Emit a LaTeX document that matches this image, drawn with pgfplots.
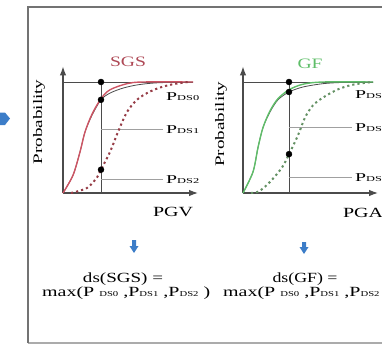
\documentclass[border=0pt]{standalone}
\usepackage{pgfplots}
\pgfplotsset{compat=1.18}
\usepackage{graphicx}
\usepackage{fontspec}
\setmainfont{Liberation Serif}
\usetikzlibrary{arrows.meta}

\definecolor{sgsred}{RGB}{205,85,100}
\definecolor{sgsdark}{RGB}{150,60,70}
\definecolor{gfgreen}{RGB}{95,190,105}
\definecolor{gfdark}{RGB}{100,145,100}
\definecolor{axgray}{RGB}{75,75,75}
\definecolor{lgray}{RGB}{160,160,160}
\definecolor{boxgray}{RGB}{115,115,115}
\definecolor{arrowblue}{RGB}{60,125,200}

% stretch text to a measured width, keeping its height
\newcommand{\fitw}[2]{\resizebox{#1}{\height}{#2}}
\newcommand{\sub}[1]{{\fontsize{7.5}{7.5}\selectfont #1}}
\newcommand{\pds}[1]{\fitw{33pt}{\fontsize{12}{12}\selectfont P\sub{DS#1}}}

\pgfplotsset{
  frag/.style={
    x=1pt, y=111pt, xmin=0, xmax=135, ymin=0, ymax=1.14,
    axis lines=left,
    axis line style={draw=axgray, line width=1.1pt, -{Latex[length=9pt,width=6.5pt]}},
    xtick=\empty, ytick=\empty, clip=false, anchor=south west,
  },
  guide/.style={axgray, line width=0.9pt},
  leader/.style={lgray, line width=0.8pt},
  dots/.style={only marks, mark=*, mark size=3pt, black},
}

\begin{document}
\begin{tikzpicture}
\useasboundingbox (0pt,0pt) rectangle (382pt,346pt);
\clip (0pt,0pt) rectangle (382pt,346pt);

\begin{scope}[x=1pt,y=1pt]
  % frame
  \draw[draw=boxgray!60, line width=1.5pt] (28,3) -- (400,3);
  \draw[draw=boxgray, line width=2.5pt] (28,3) -- (28,339) -- (400,339);
  % blue arrow tip at the left
  \fill[arrowblue] (0,233.5) -- (5,233.5) -- (10,227.5) -- (5,221) -- (0,221) -- cycle;
  % blue down arrows
  \fill[arrowblue] (132,106) -- (136,106) -- (136,100) -- (138.5,100) -- (134,93) -- (129.5,100) -- (132,100) -- cycle;
  \fill[arrowblue] (302,104) -- (306,104) -- (306,99) -- (308.5,99) -- (304,92) -- (299.5,99) -- (302,99) -- cycle;
  % formulas
  \node[anchor=base, inner sep=0] at (123,64) {\fitw{80pt}{\fontsize{14}{14}\selectfont ds(SGS) =}};
  \node[anchor=base west, inner sep=0] at (42,50) {\fitw{168pt}{\fontsize{14}{14}\selectfont max(P \sub{DS0} ,P\sub{DS1} ,P\sub{DS2} )}};
  \node[anchor=base, inner sep=0] at (305,64) {\fitw{65pt}{\fontsize{14}{14}\selectfont ds(GF) =}};
  \node[anchor=base west, inner sep=0] at (223,50) {\fitw{168pt}{\fontsize{14}{14}\selectfont max(P \sub{DS0} ,P\sub{DS1} ,P\sub{DS2} )}};
\end{scope}

% ---- SGS ----
\begin{axis}[frag, at={(63pt,153pt)}]
  \addplot[guide] coordinates {(0,1) (130,1)};
  \addplot[guide] coordinates {(38,0) (38,1)};
  \addplot[leader] coordinates {(38,0.57) (100,0.57)};
  \addplot[leader] coordinates {(38,0.126) (100,0.126)};
  \addplot[axgray, line width=0.8pt, smooth] coordinates {
    (0,0) (10,0.16) (17,0.37) (22,0.55) (29,0.70) (38,0.84) (47,0.90)
    (60,0.945) (75,0.975) (95,0.993) (130,1.0)};
  \addplot[sgsred, line width=1.4pt, smooth] coordinates {
    (0,0) (10,0.16) (17,0.37) (22,0.55) (29,0.71) (38,0.85) (47,0.93)
    (64,0.985) (80,1.0) (130,1.0)};
  \addplot[sgsdark, line width=2pt, dash pattern=on 2.2pt off 3pt, smooth] coordinates {
    (8,0) (24,0.045) (34,0.14) (38,0.21) (47,0.37) (55,0.55) (64,0.73)
    (74,0.84) (85,0.905) (97,0.95) (110,0.98) (125,1.0)};
  \addplot[dots] coordinates {(38,1) (38,0.84) (38,0.21)};
  \node[anchor=base, inner sep=0, text=sgsred!85!black] at (axis cs:65,1.144)
    {\fitw{36pt}{\fontsize{14.4}{14.4}\selectfont SGS}};
  \node[anchor=base west, inner sep=0] at (axis cs:103,0.83) {\pds{0}};
  \node[anchor=base west, inner sep=0] at (axis cs:103,0.54) {\pds{1}};
  \node[anchor=base west, inner sep=0] at (axis cs:103,0.09) {\pds{2}};
  \node[anchor=base, inner sep=0] at (axis cs:110,-0.216)
    {\fitw{40pt}{\fontsize{14}{14}\selectfont PGV}};
  \node[anchor=base, inner sep=0, rotate=90] at (axis cs:-21,0.64)
    {\fitw{85pt}{\fontsize{13}{13}\selectfont Probability}};
\end{axis}

% ---- GF ----
\begin{axis}[frag, at={(243pt,153pt)}]
  \addplot[guide] coordinates {(0,1) (130,1)};
  \addplot[guide] coordinates {(46,0) (46,1)};
  \addplot[leader] coordinates {(46,0.595) (109,0.595)};
  \addplot[leader] coordinates {(46,0.144) (109,0.144)};
  \addplot[axgray, line width=0.8pt, smooth] coordinates {
    (0,0) (10,0.19) (15,0.41) (20,0.59) (27,0.73) (35,0.84) (46,0.91)
    (60,0.955) (80,0.985) (100,0.996) (130,1.0)};
  \addplot[gfgreen, line width=1.4pt, smooth] coordinates {
    (0,0) (10,0.19) (15,0.41) (20,0.59) (27,0.74) (35,0.85) (46,0.93)
    (60,0.98) (80,1.0) (130,1.0)};
  \addplot[gfdark, line width=2pt, dash pattern=on 2.2pt off 3pt, smooth] coordinates {
    (8,0) (16,0.015) (27,0.10) (39,0.23) (46,0.35) (55,0.52) (62,0.68)
    (70,0.79) (80,0.86) (94,0.93) (107,0.97) (120,0.99) (130,1.0)};
  \addplot[dots] coordinates {(46,1) (46,0.91) (46,0.35)};
  \node[anchor=base, inner sep=0, text=gfgreen] at (axis cs:67,1.126)
    {\fitw{25pt}{\fontsize{14.4}{14.4}\selectfont GF}};
  \node[anchor=base west, inner sep=0] at (axis cs:112,0.847) {\pds{0}};
  \node[anchor=base west, inner sep=0] at (axis cs:112,0.55) {\pds{1}};
  \node[anchor=base west, inner sep=0] at (axis cs:112,0.108) {\pds{2}};
  \node[anchor=base, inner sep=0] at (axis cs:120,-0.225)
    {\fitw{40pt}{\fontsize{14}{14}\selectfont PGA}};
  \node[anchor=base, inner sep=0, rotate=90] at (axis cs:-19,0.62)
    {\fitw{85pt}{\fontsize{13}{13}\selectfont Probability}};
\end{axis}
\end{tikzpicture}
\end{document}
